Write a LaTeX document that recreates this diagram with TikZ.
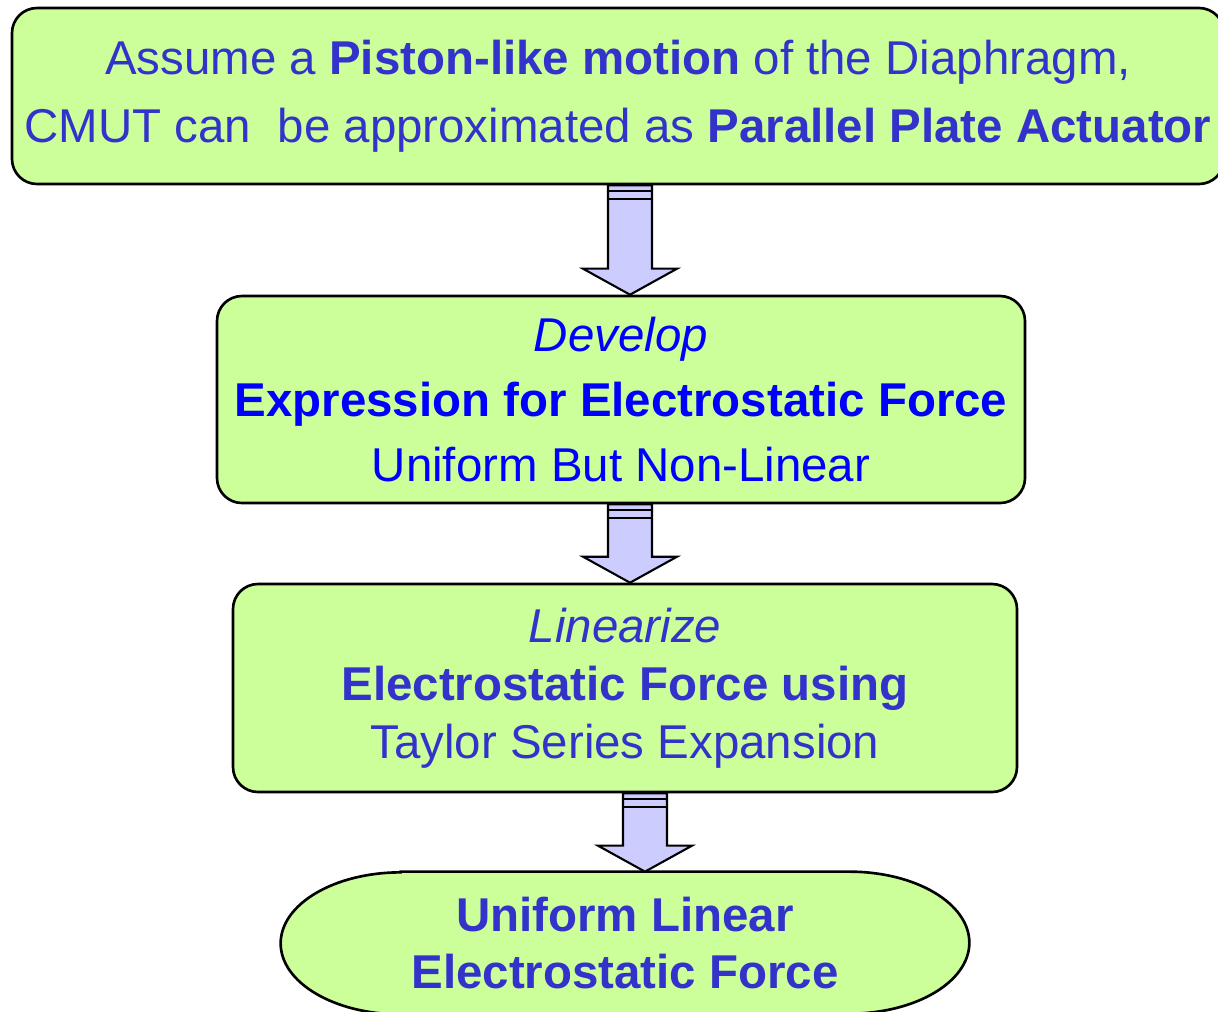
\documentclass[tikz,border=0pt]{standalone}
\usepackage{fontspec}
\setmainfont{Liberation Sans}
\usetikzlibrary{calc,backgrounds}
\definecolor{boxgreen}{RGB}{204,255,153}
\definecolor{textblue}{RGB}{51,51,204}
\definecolor{arrowlilac}{RGB}{204,204,255}
\tikzset{
  stepbox/.style={draw=black,line width=1.5pt,fill=boxgreen,rounded corners=0.5cm,
    inner sep=0pt,align=center,text=textblue},
  arrowbody/.style={draw=black,line width=1.2pt,fill=arrowlilac,line join=miter},
}
% block arrow between two nodes, #3 = x of its axis
\newcommand{\flowarrow}[3]{%
  \coordinate (s) at (#1.south -| #3,0);
  \coordinate (t) at (#2.north -| #3,0);
  \draw[arrowbody] ($(s)+(-0.44,0)$) -- ($(t)+(-0.44,0.52)$) -- ($(t)+(-0.94,0.52)$)
    -- (t) -- ($(t)+(0.94,0.52)$) -- ($(t)+(0.44,0.52)$) -- ($(s)+(0.44,0)$) -- cycle;
  \draw[line width=1pt] ($(s)+(-0.44,-0.12)$) -- ($(s)+(0.44,-0.12)$);
  \draw[line width=1pt] ($(s)+(-0.44,-0.28)$) -- ($(s)+(0.44,-0.28)$);
}
\begin{document}
\begin{tikzpicture}
\useasboundingbox (0,0) rectangle (24.36,-20.22);
\node[stepbox,minimum width=24.24cm,minimum height=3.52cm,
  font={\fontsize{27}{38.5}\selectfont}] (assume) at (12.36,-1.92)
  {Assume a \textbf{Piston-like motion} of the Diaphragm,\\
   CMUT can~ be approximated as \textbf{Parallel Plate Actuator}};
\node[stepbox,text=blue,minimum width=16.16cm,minimum height=4.14cm,
  font={\fontsize{27}{37}\selectfont}] (develop) at (12.42,-7.99)
  {\textit{Develop}\\ \textbf{Expression for Electrostatic Force}\\ Uniform But Non-Linear};
\node[stepbox,minimum width=15.68cm,minimum height=4.16cm,
  font={\fontsize{27}{33}\selectfont}] (linear) at (12.50,-13.76)
  {\textit{Linearize}\\ \textbf{Electrostatic Force using}\\ Taylor Series Expansion};
\node[inner sep=0pt,align=center,text=textblue,minimum width=13.76cm,minimum height=2.84cm,
  font={\fontsize{27}{32.5}\selectfont\bfseries}] (result) at (12.50,-18.86)
  {Uniform Linear\\ Electrostatic Force};
% terminator outline behind the last text
\begin{scope}[on background layer]
\draw[line width=1.5pt,fill=boxgreen] ($(result.north west)+(2.4,0)$) -- ($(result.north east)+(-2.4,0)$)
  arc[start angle=90,end angle=-90,x radius=2.4,y radius=1.42]
  -- ($(result.south west)+(2.4,0)$)
  arc[start angle=270,end angle=90,x radius=2.4,y radius=1.42] -- cycle;
\end{scope}
\flowarrow{assume}{develop}{12.6}
\flowarrow{develop}{linear}{12.6}
\flowarrow{linear}{result}{12.9}
\end{tikzpicture}
\end{document}
